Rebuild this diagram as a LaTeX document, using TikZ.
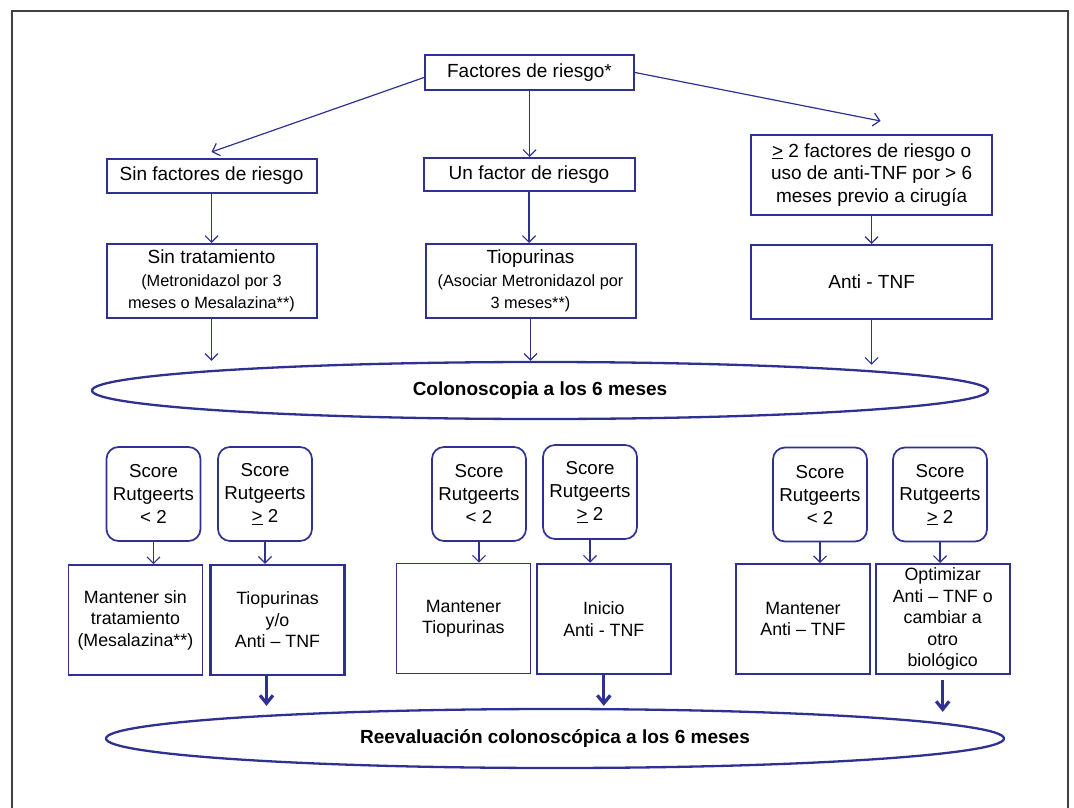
\documentclass[tikz,border=0pt]{standalone}
\usepackage{fontspec}
\setmainfont{Liberation Sans}
\usetikzlibrary{shapes.geometric,arrows.meta}
\definecolor{azul}{RGB}{46,49,146}
\newcommand{\chica}{\fontsize{16.3}{20}\selectfont}

\begin{document}
\begin{tikzpicture}[x=1pt,y=-1pt,
    caja/.style={draw=azul,line width=2pt,align=center,inner sep=0pt,font=\fontsize{19}{22.7}\selectfont},
    elipse/.style={ellipse,draw=azul,line width=2.3pt,inner sep=0pt,font=\bfseries\fontsize{19}{23}\selectfont},
    score/.style={draw=azul,line width=1.7pt,rounded corners=12pt,minimum width=94pt,minimum height=94pt,
      align=center,inner sep=0pt,font=\fontsize{18.7}{23}\selectfont},
    fin/.style={draw=azul,line width=1.6pt,minimum width=134pt,minimum height=110pt,align=center,
      inner sep=0pt,font=\fontsize{17.8}{21.4}\selectfont},
    fing/.style={fin,line width=2.5pt},
    flecha/.style={azul,line width=1.2pt,-{Straight Barb[length=6.5pt,width=13pt]}},
    flechag/.style={azul,line width=3.2pt,-{Straight Barb[length=8pt,width=13pt]}}]
  \useasboundingbox (0,0) rectangle (1074,808);
  \draw[black!75,line width=2pt] (12,808) -- (12,11) -- (1068,11) -- (1068,808);

  % factores de riesgo
  \node[caja,minimum width=209pt,minimum height=35pt] (fr) at (529.5,72.5) {Factores de riesgo*};
  \node[caja,minimum width=210pt,minimum height=34pt] (sin) at (211.5,176) {Sin factores de riesgo};
  \node[caja,minimum width=211pt,minimum height=33pt] (uno) at (529,174.5) {Un factor de riesgo};
  \node[caja,minimum width=241pt,minimum height=80pt] (dos) at (871.6,175)
    {\underline{>} 2 factores de riesgo o\\uso de anti-TNF por > 6\\meses previo a cirugía};

  % tratamiento
  \node[caja,minimum width=210pt,minimum height=74pt] (tA) at (211.5,281)
    {Sin tratamiento\\ \chica (Metronidazol por 3\\ \chica meses o Mesalazina**)};
  \node[caja,minimum width=210pt,minimum height=74pt] (tB) at (530.5,281)
    {Tiopurinas\\ \chica (Asociar Metronidazol por\\ \chica 3 meses**)};
  \node[caja,minimum width=241pt,minimum height=74pt] (tC) at (871.6,282) {Anti - TNF};

  \node[elipse,minimum width=896pt,minimum height=57pt] (colo) at (540,390.5) {Colonoscopia a los 6 meses};

  % score de Rutgeerts
  \node[score] (s1) at (153.5,494) {Score\\Rutgeerts\\< 2};
  \node[score] (s2) at (265,494) {Score\\Rutgeerts\\\underline{>} 2};
  \node[score] (s3) at (479,494) {Score\\Rutgeerts\\< 2};
  \node[score] (s4) at (590,492) {Score\\Rutgeerts\\\underline{>} 2};
  \node[score] (s5) at (820,494.5) {Score\\Rutgeerts\\< 2};
  \node[score] (s6) at (940,494.5) {Score\\Rutgeerts\\\underline{>} 2};

  % conducta
  \node[fin] (m1) at (135.4,620) {Mantener sin\\tratamiento\\(Mesalazina**)};
  \node[fing] (m2) at (277.5,620) {Tiopurinas\\y/o\\Anti – TNF};
  \node[fin] (m3) at (463.4,618.5) {Mantener\\Tiopurinas};
  \node[fing] (m4) at (603.8,619) {Inicio\\Anti - TNF};
  \node[fin] (m5) at (803,619) {Mantener\\Anti – TNF};
  \node[fing,line width=2pt] (m6) at (942.7,619) {Optimizar\\Anti – TNF o\\cambiar a\\otro\\biológico};

  \node[elipse,minimum width=898pt,minimum height=59pt] (reev) at (555,738.5)
    {Reevaluación colonoscópica a los 6 meses};

  \path[flecha]
    ([yshift=-5pt]fr.west) edge ([yshift=6pt]sin.north)
    (fr.south) edge (fr.south |- uno.north)
    (fr.east) edge ([xshift=9pt,yshift=13pt]dos.north)
    (sin) edge (tA)
    (uno.south) edge (uno.south |- tB.north)
    (dos) edge (tC)
    (tA.south) edge (tA.south |- colo.north)
    (tB.south) edge (tB.south |- colo.north)
    (tC.south) edge ([yshift=-4pt]tC.south |- colo.north)
    (s1.south) edge (s1.south |- m1.north)
    (s2.south) edge (s2.south |- m2.north)
    (s3.south) edge (s3.south |- m3.north)
    (s4.south) edge (s4.south |- m4.north)
    (s5.south) edge (s5.south |- m5.north)
    (s6.south) edge (s6.south |- m6.north);
  \path[flechag]
    ([xshift=-11pt]m2.south) edge ([xshift=-11pt,yshift=2pt]m2.south |- reev.north)
    (m4.south) edge ([yshift=2pt]m4.south |- reev.north)
    (m6.south) edge[shorten <=5pt] ([yshift=-4pt]m6.south |- reev.north);
\end{tikzpicture}
\end{document}
